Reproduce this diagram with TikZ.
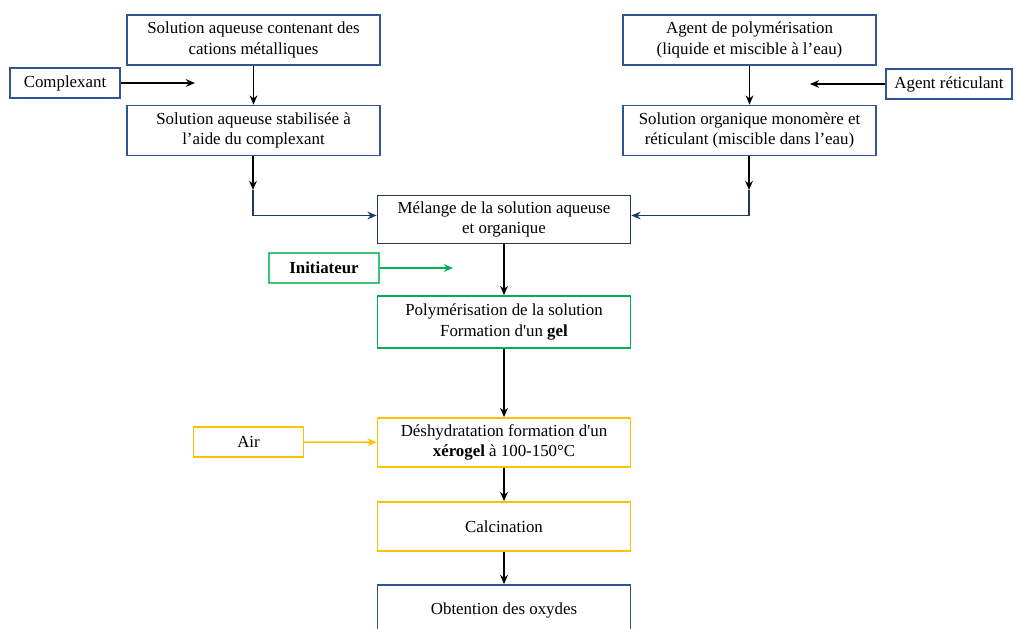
\documentclass[tikz,border=0pt]{standalone}
\usepackage{fontspec}
\setmainfont{Liberation Serif}
\usetikzlibrary{shapes,arrows,arrows.meta,positioning,calc}
\definecolor{navyline}{RGB}{31,56,100}
\definecolor{steelline}{RGB}{47,85,151}
\definecolor{greenline}{RGB}{0,176,80}
\definecolor{lightgreen}{RGB}{60,195,120}
\definecolor{yellowline}{RGB}{255,192,0}

\begin{document}
\begin{tikzpicture}[
    x=0.025cm, y=-0.025cm,
    box/.style={rectangle, draw=steelline, line width=1.3pt, align=center, font=\fontsize{12}{14.5}\selectfont, minimum height=1.25cm, minimum width=6.325cm, inner sep=2pt},
    side/.style={rectangle, draw=steelline, line width=1pt, align=center, font=\fontsize{12}{14.5}\selectfont, minimum height=0.75cm, minimum width=2.75cm},
    arrow/.style={->, >={Stealth[length=6.5pt, width=5.5pt]}, line width=1.1pt}
]
    \useasboundingbox (0,0) rectangle (1016,629);
    % aqueous branch
    \node[box] (a1) at (253.5,40) {Solution aqueuse contenant des\\cations métalliques};
    \node[box] (a2) at (253.5,130.5) {Solution aqueuse stabilisée à\\l’aide du complexant};
    \node[side] (cpx) at (65,83) {Complexant};
    % organic branch
    \node[box] (b1) at (749.5,40) {Agent de polymérisation\\(liquide et miscible à l’eau)};
    \node[box] (b2) at (749.5,130.5) {Solution organique monomère et\\réticulant (miscible dans l’eau)};
    \node[side, minimum width=3.15cm] (ret) at (949,84) {Agent réticulant};
    % main column
    \node[box, draw=navyline, minimum height=1.2cm] (mix) at (504,219.5) {Mélange de la solution aqueuse\\et organique};
    \node[side, draw=lightgreen] (init) at (324,268) {\textbf{Initiateur}};
    \node[box, draw=greenline, minimum height=1.3cm] (poly) at (504,322) {Polymérisation de la solution\\Formation d\textquotesingle un \textbf{gel}};
    \node[side, draw=yellowline] (air) at (248.5,442) {Air};
    \node[box, draw=yellowline, minimum height=1.225cm] (dry) at (504,442.5) {Déshydratation formation d\textquotesingle un\\\textbf{xérogel} à 100-150°C};
    \node[box, draw=yellowline, minimum height=1.225cm] (calc) at (504,526.5) {Calcination};
    \node[box, minimum height=1.25cm] (oxy) at (504,610) {Obtention des oxydes};

    \coordinate (cpxend) at (195,83);
    \coordinate (retend) at (810,84);
    \coordinate (initend) at (453,268);
    \coordinate (ja) at (253,190);
    \coordinate (jb) at (749,190);

    \draw[arrow] (a1) -- (a2);
    \draw[arrow] (cpx) -- (cpxend);
    \draw[arrow] (b1) -- (b2);
    \draw[arrow] (ret) -- (retend);
    \draw[arrow] (a2.south -| ja) -- (ja);
    \draw[arrow] (b2.south -| jb) -- (jb);
    \draw[arrow, navyline] (ja) |- ($(mix.west)+(0,-4)$);
    \draw[arrow, navyline] (jb) |- ($(mix.east)+(0,-4)$);
    \draw[arrow] (mix) -- (poly);
    \draw[arrow, greenline, line width=1pt] (init) -- (initend);
    \draw[arrow] (poly) -- (dry);
    \draw[arrow, yellowline] (air) -- (dry);
    \draw[arrow] (dry) -- (calc);
    \draw[arrow] (calc) -- (oxy);
\end{tikzpicture}
\end{document}
